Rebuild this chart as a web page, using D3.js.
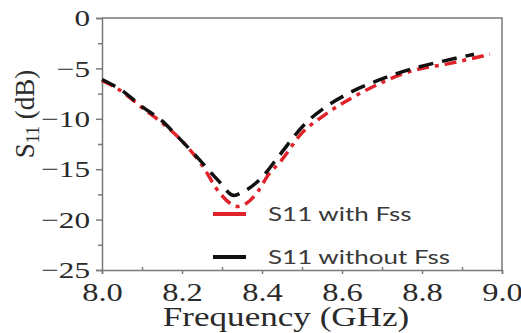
<!DOCTYPE html>
<html>
<head>
<meta charset="utf-8">
<script src="https://cdn.jsdelivr.net/npm/d3@7"></script>
<style>
  body { margin: 0; background: #fff; }
  svg { display: block; }
</style>
</head>
<body>
<div id="chart"></div>
<script>
// ---- data ----
var freqWith    = [8.00, 8.05, 8.10, 8.15, 8.20, 8.25, 8.295, 8.34, 8.39, 8.415, 8.445, 8.50, 8.55, 8.63, 8.70, 8.77, 8.87, 8.97];
var s11With     = [-6.2, -7.3, -8.9, -10.4, -12.2, -14.6, -17.4, -18.7, -17.2, -15.6, -14.3, -11.4, -9.8, -7.8, -6.4, -5.3, -4.5, -3.6];
var freqWithout = [8.00, 8.05, 8.10, 8.15, 8.19, 8.24, 8.29, 8.33, 8.35, 8.40, 8.44, 8.51, 8.56, 8.61, 8.69, 8.77, 8.85, 8.93];
var s11Without  = [-6.1, -7.2, -8.8, -10.2, -11.8, -13.9, -16.1, -17.6, -17.3, -15.8, -13.8, -10.4, -8.8, -7.6, -6.2, -5.1, -4.3, -3.6];
var xTicks = [8.0, 8.2, 8.4, 8.6, 8.8, 9.0];
var yTicks = [0, -5, -10, -15, -20, -25];
var legendLabels = ["S11 with Fss", "S11 without Fss"];

var W = 521, H = 333;
var sx = 1.3; // the picture's text is stretched sideways

var svg = d3.select("#chart").append("svg")
  .attr("width", W).attr("height", H);

var x = d3.scaleLinear().domain([8, 9]).range([102, 502]);
var y = d3.scaleLinear().domain([-25, 0]).range([270, 18]);

var axisColor = "#7a7a7a";
var textColor = "#2a2a2a";

// frame (top and right)
svg.append("path")
  .attr("d", "M" + x(8) + "," + y(0) + "H" + x(9) + "V" + y(-25))
  .attr("fill", "none").attr("stroke", axisColor).attr("stroke-width", 1.5);

// left axis
var gy = svg.append("g").attr("transform", "translate(" + x(8) + ",0)")
  .call(d3.axisLeft(y).tickValues(yTicks).tickSize(6).tickPadding(7));
// minor y ticks
svg.append("g").attr("transform", "translate(" + x(8) + ",0)")
  .call(d3.axisLeft(y).tickValues(d3.range(-22.5, 0, 5)).tickSize(4).tickFormat(""))
  .call(function(g) { g.select(".domain").remove(); });

// bottom axis
var gx = svg.append("g").attr("transform", "translate(0," + y(-25) + ")")
  .call(d3.axisBottom(x).tickValues(xTicks).tickFormat(d3.format(".1f")).tickSize(4).tickPadding(9));
svg.append("g").attr("transform", "translate(0," + y(-25) + ")")
  .call(d3.axisBottom(x).tickValues(d3.range(8.1, 9, 0.2)).tickSize(-3).tickFormat(""))
  .call(function(g) { g.select(".domain").remove(); });

svg.selectAll(".domain, .tick line").attr("stroke", axisColor).attr("stroke-width", 1.5);

gy.selectAll(".tick text")
  .attr("font-family", "Liberation Serif").attr("font-size", 24).attr("fill", textColor)
  .attr("x", -12 / sx)
  .attr("transform", "scale(" + sx + ",1)");
gx.selectAll(".tick text")
  .attr("font-family", "Liberation Serif").attr("font-size", 25).attr("fill", textColor)
  .attr("x", 0)
  .attr("transform", "scale(" + sx + ",1)");

// axis titles
svg.append("text")
  .attr("transform", "translate(286,326) scale(" + sx + ",1)")
  .attr("text-anchor", "middle")
  .attr("font-family", "Liberation Serif").attr("font-size", 27).attr("fill", textColor)
  .text("Frequency (GHz)");

var yt = svg.append("text")
  .attr("transform", "translate(34,114) rotate(-90)")
  .attr("text-anchor", "middle")
  .attr("font-family", "Liberation Serif").attr("font-size", 27).attr("fill", textColor);
yt.append("tspan").text("S");
yt.append("tspan").attr("font-size", 18).attr("dy", 5).text("11");
yt.append("tspan").attr("dy", -5).text(" (dB)");

// ---- curves ----
var line = d3.line()
  .x(function(d) { return x(d[0]); })
  .y(function(d) { return y(d[1]); })
  .curve(d3.curveMonotoneX);

var series = [
  { name: legendLabels[0], f: freqWith, v: s11With, color: "#e0232b", dash: "12,6,4,6" },
  { name: legendLabels[1], f: freqWithout, v: s11Without, color: "#111111", dash: "15,9" }
];

series.forEach(function(s) {
  svg.append("path")
    .datum(d3.zip(s.f, s.v))
    .attr("d", line)
    .attr("fill", "none")
    .attr("stroke", s.color)
    .attr("stroke-width", 3.5)
    .attr("stroke-dasharray", s.dash);
});

// ---- legend ----
series.forEach(function(s, i) {
  var ly = 214 + i * 43;
  svg.append("line")
    .attr("x1", 213).attr("x2", 246).attr("y1", ly).attr("y2", ly)
    .attr("stroke", s.color).attr("stroke-width", 4);
  svg.append("text")
    .attr("transform", "translate(268," + (ly + 7) + ") scale(1.3,1)")
    .attr("font-family", "Lato").attr("font-size", 20).attr("fill", "#3a3a3a")
    .text(s.name);
});
</script>
</body>
</html>
